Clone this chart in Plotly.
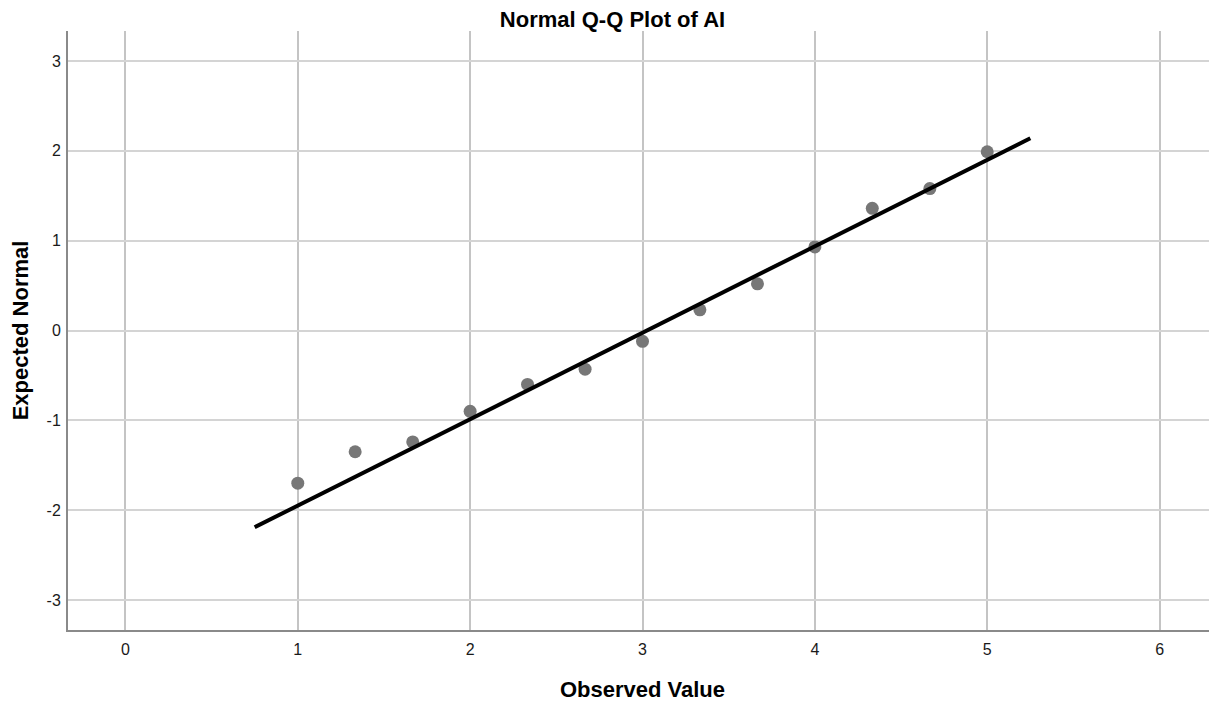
import plotly.graph_objects as go

# Observed values and expected normal quantiles
observed = [1.0, 1.333, 1.667, 2.0, 2.333, 2.667, 3.0, 3.333, 3.667, 4.0, 4.333, 4.667, 5.0]
expected = [-1.70, -1.35, -1.24, -0.90, -0.60, -0.43, -0.12, 0.23, 0.52, 0.93, 1.36, 1.58, 1.99]

# Reference line endpoints
line_x = [0.75, 5.25]
line_y = [-2.19, 2.14]

x_ticks = [0, 1, 2, 3, 4, 5, 6]
x_labels = ["0", "1", "2", "3", "4", "5", "6"]
y_ticks = [-3, -2, -1, 0, 1, 2, 3]
y_labels = ["-3", "-2", "-1", "0", "1", "2", "3"]

fig = go.Figure()
fig.add_trace(go.Scatter(
    x=observed, y=expected, mode="markers",
    marker=dict(size=13, color="#777777", line=dict(width=0)),
    showlegend=False, hoverinfo="x+y"))
fig.add_trace(go.Scatter(
    x=line_x, y=line_y, mode="lines",
    line=dict(color="black", width=4),
    showlegend=False))

font_family = "Arial, Liberation Sans, sans-serif"
# the page body adds an 8px offset, so the figure is 8px smaller
W, H = 1209, 694
fig.update_layout(
    width=W, height=H,
    margin=dict(l=60, r=0, t=23, b=72, autoexpand=False),
    paper_bgcolor="white", plot_bgcolor="white",
    font=dict(family=font_family, color="#1a1a1a", size=16),
    title=dict(text="<b>Normal Q-Q Plot of AI</b>", x=0.5, xanchor="center",
               xref="container",
               y=1 - 11 / H, yanchor="middle", yref="container",
               font=dict(size=22, family=font_family, color="#000"),
               automargin=False),
    xaxis=dict(range=[-0.333, 6.333], tickvals=x_ticks, ticktext=x_labels,
               showgrid=True, automargin=True,
               gridcolor="#c4c4c4", gridwidth=2, zeroline=False,
               showline=True, linecolor="#8a8a8a", linewidth=2,
               ticks="outside", ticklen=4, tickcolor="rgba(0,0,0,0)",
               tickfont=dict(size=16, color="#1a1a1a"),
               title=dict(text="<b>Observed Value</b>", standoff=24,
                          font=dict(size=22, color="#000"))),
    yaxis=dict(range=[-3.334, 3.334], tickvals=y_ticks, ticktext=y_labels,
               showgrid=True, automargin=True,
               gridcolor="#d4d4d4", gridwidth=2, zeroline=False,
               showline=True, linecolor="#8a8a8a", linewidth=2,
               ticks="outside", ticklen=2, tickcolor="rgba(0,0,0,0)",
               tickfont=dict(size=16, color="#1a1a1a"),
               title=dict(text="<b>Expected Normal</b>", standoff=24,
                          font=dict(size=22, color="#000"))),
)

fig.write_html("out.html")
